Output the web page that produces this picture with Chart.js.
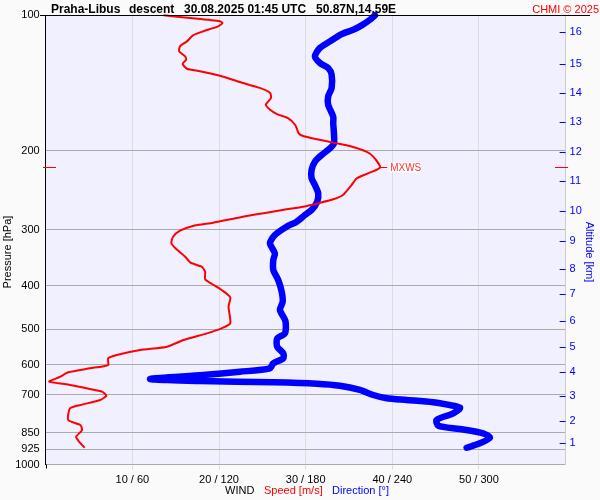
<!DOCTYPE html>
<html>
<head>
<meta charset="utf-8">
<script src="https://cdn.jsdelivr.net/npm/chart.js@4.4.1/dist/chart.umd.min.js"></script>
<style>
  html, body { margin: 0; padding: 0; background: #fafafa; }
</style>
</head>
<body>
<canvas id="sonde" width="600" height="500"></canvas>
<script>
// wind speed profile: pressure level (hPa) and speed (m/s)
var speedPres = [100, 101.4, 103.1, 104.0, 105.8, 108.5, 110.8, 114.3, 117.2, 120.3,
  123.4, 125.6, 128.3, 131.5, 133.2, 136.3, 140.8, 145.1, 148.9, 152.8,
  158.1, 162.2, 165.9, 169.6, 175.5, 183.1, 185.7, 188.8, 192.8, 195.4,
  201.2, 206.4, 218.0, 224.8, 230.6, 238.7, 251.2, 256.8, 261.3, 266.7,
  270.3, 275.0, 279.8, 284.6, 289.6, 294.4, 301.6, 311.1, 321.8, 331.8,
  344.6, 355.4, 362.8, 372.2, 387.0, 396.4, 408.8, 424.4, 445.3, 485.0,
  497.6, 510.5, 528.3, 546.8, 556.1, 570.5, 580.3, 600.5, 610.7, 623.4,
  637.5, 654.2, 663.0, 679.1, 688.5, 702.8, 718.5, 737.2, 749.7, 796.0,
  816.8, 838.0, 867.6, 886.8, 917.6];
var speedVals = [13.6, 16.7, 20.1, 20.4, 19.9, 18.2, 17.0, 16.3, 15.5, 15.4,
  16.1, 16.2, 15.8, 16.3, 17.8, 20.1, 22.4, 24.7, 25.9, 26.0,
  25.4, 25.9, 26.7, 28.0, 28.8, 29.2, 29.7, 31.3, 33.6, 35.1,
  37.0, 37.8, 38.6, 37.2, 35.9, 35.3, 34.3, 33.2, 31.7, 29.7,
  27.8, 25.5, 23.2, 21.3, 19.3, 17.0, 15.5, 14.7, 14.5, 15.1,
  16.1, 16.7, 18.0, 18.4, 18.4, 19.2, 20.3, 21.3, 21.1, 21.3,
  20.3, 18.6, 15.9, 14.0, 10.9, 8.2, 7.2, 7.2, 5.1, 2.6,
  1.7, 0.4, 2.4, 5.1, 6.5, 7.0, 6.3, 4.0, 2.8, 2.6,
  4.0, 4.2, 3.5, 3.8, 4.5];

// wind direction profile: pressure level (hPa) and direction (deg)
var dirPres = [100, 102.3, 105.3, 107.7, 110.1, 114.3, 118.2, 123.4, 127.7, 131.0,
  135.6, 145.1, 151.5, 158.1, 168.2, 174.0, 183.1, 192.8, 197.8, 204.6,
  211.8, 221.0, 230.6, 238.7, 249.0, 260.0, 271.3, 278.4, 288.1, 295.5,
  308.4, 321.8, 338.7, 350.5, 369.0, 388.4, 412.4, 434.3, 452.9, 479.3,
  510.5, 523.8, 546.8, 565.6, 580.3, 595.3, 610.7, 621.5, 632.1, 645.1,
  651.7, 656.1, 660.8, 667.6, 682.5, 700.3, 712.3, 718.5, 727.0, 747.5,
  769.1, 796.0, 819.7, 833.7, 852.1, 872.0, 897.2, 917.6];
var dirVals = [228.0, 224.5, 218.8, 212.9, 204.9, 196.8, 189.9, 186.4, 189.9, 195.6,
  198.0, 198.0, 195.6, 195.6, 199.1, 199.1, 199.6, 199.6, 196.8, 191.1,
  186.4, 184.1, 184.1, 186.4, 188.7, 188.0, 184.1, 179.5, 173.8, 166.8,
  158.7, 155.3, 158.7, 157.6, 157.6, 161.0, 163.4, 164.1, 162.2, 166.0,
  165.7, 160.3, 160.3, 164.5, 164.5, 157.6, 155.3, 134.5, 108.9, 72.2,
  106.8, 157.6, 187.6, 203.7, 217.6, 226.8, 236.1, 249.9, 268.3, 286.8,
  282.2, 270.7, 271.8, 286.8, 302.9, 307.6, 300.7, 291.5];

var presTicks = [100, 200, 300, 400, 500, 600, 700, 850, 925, 1000];
var speedTicks = [0, 10, 20, 30, 40, 50, 60];
var altKm = [1, 2, 3, 4, 5, 6, 7, 8, 9, 10, 11, 12, 13, 14, 15, 16];
var altPres = [895.8, 798.9, 705.1, 623.4, 547.5, 478.6, 417.3, 366.6, 317.5, 272.7,
  234.1, 201.8, 172.8, 149.2, 128.1, 109.1];

var maxWindSpeed = 38.6;
var maxWindPres = 218;

var FONT = '"Liberation Sans", Arial, sans-serif';
Chart.defaults.font.family = FONT;

var decor = {
  id: 'decor',
  beforeDraw: function(chart) {
    var c = chart.ctx, a = chart.chartArea;
    c.save();
    c.fillStyle = '#fafafa';
    c.fillRect(0, 0, chart.width, chart.height);
    c.fillStyle = '#f0f0ff';
    c.fillRect(a.left, a.top, a.right - a.left, a.bottom - a.top);
    c.restore();
  },
  afterDraw: function(chart) {
    var c = chart.ctx, a = chart.chartArea;
    var sx = chart.scales.x, sy = chart.scales.y, sy2 = chart.scales.y2;
    c.save();

    // top frame line and the left axis stub under the bottom
    c.strokeStyle = '#000';
    c.lineWidth = 1;
    c.beginPath();
    c.moveTo(40, Math.round(a.top) + 0.5);
    c.lineTo(590, Math.round(a.top) + 0.5);
    c.moveTo(Math.round(a.left) + 0.5, a.bottom);
    c.lineTo(Math.round(a.left) + 0.5, a.bottom + 4);
    c.stroke();

    // altitude ticks drawn inside the frame
    c.strokeStyle = '#0000ff';
    c.beginPath();
    altPres.forEach(function(p) {
      var y = Math.round(sy2.getPixelForValue(p)) + 0.5;
      c.moveTo(a.right - 6, y);
      c.lineTo(a.right, y);
    });
    c.stroke();

    // max wind marks
    var my = Math.round(sy.getPixelForValue(maxWindPres)) + 0.5;
    var mx = sx.getPixelForValue(maxWindSpeed);
    c.strokeStyle = '#ff0000';
    c.beginPath();
    c.moveTo(43, my); c.lineTo(56, my);
    c.moveTo(555, my); c.lineTo(568, my);
    c.moveTo(mx, my); c.lineTo(mx + 7, my);
    c.stroke();
    c.fillStyle = '#ffffff';
    c.fillRect(mx + 9, my - 5, 32, 10);
    c.fillStyle = '#ff3333';
    c.font = '10px ' + FONT;
    c.textBaseline = 'middle';
    c.textAlign = 'left';
    c.fillText('MXWS', mx + 10, my + 0.5);

    // header
    c.textBaseline = 'alphabetic';
    c.fillStyle = '#000';
    c.font = 'bold 12px ' + FONT;
    c.fillText('Praha-Libus', 51, 12.5);
    c.fillText('descent', 129, 12.5);
    c.fillText('30.08.2025 01:45 UTC', 184, 12.5);
    c.fillText('50.87N,14.59E', 316, 12.5);
    c.fillStyle = '#ff0000';
    c.font = '11px ' + FONT;
    c.textAlign = 'right';
    c.fillText('CHMI \u00a9 2025', 599, 12.5);

    // bottom legend
    c.textAlign = 'left';
    c.textBaseline = 'middle';
    c.fillStyle = '#000';
    c.fillText('WIND', 225, 491);
    c.fillStyle = '#ff0000';
    c.fillText('Speed [m/s]', 264, 491);
    c.fillStyle = '#0000ff';
    c.fillText('Direction [\u00b0]', 332, 491);

    // axis titles
    c.textAlign = 'center';
    c.fillStyle = '#000';
    c.save();
    c.translate(8, 252);
    c.rotate(-Math.PI / 2);
    c.fillText('Pressure [hPa]', 0, 0);
    c.restore();
    c.fillStyle = '#0000ff';
    c.translate(589, 252);
    c.rotate(Math.PI / 2);
    c.fillText('Altitude [km]', 0, 0);

    c.restore();
  }
};

var chart = new Chart(document.getElementById('sonde'), {
  type: 'scatter',
  data: {
    datasets: [{
      label: 'Speed',
      data: speedPres.map(function(p, i) { return { x: speedVals[i], y: p }; }),
      xAxisID: 'x',
      yAxisID: 'y',
      showLine: true,
      borderColor: '#ff0000',
      borderWidth: 2,
      pointRadius: 0,
      tension: 0.2,
      clip: false
    }, {
      label: 'Direction',
      data: dirPres.map(function(p, i) { return { x: dirVals[i], y: p }; }),
      xAxisID: 'x2',
      yAxisID: 'y',
      showLine: true,
      borderColor: '#0000ff',
      borderWidth: 6.5,
      borderCapStyle: 'round',
      borderJoinStyle: 'round',
      pointRadius: 0,
      tension: 0.25,
      clip: false
    }]
  },
  options: {
    responsive: false,
    animation: false,
    devicePixelRatio: 1,
    layout: { padding: { top: 15.3, left: 0, right: 0, bottom: 0 } },
    plugins: { legend: { display: false }, tooltip: { enabled: false } },
    scales: {
      x: {
        type: 'linear', position: 'bottom', min: 0, max: 60,
        afterBuildTicks: function(s) { s.ticks = speedTicks.map(function(v) { return { value: v }; }); },
        afterFit: function(s) { s.height = 35.5; },
        ticks: {
          autoSkip: false, maxRotation: 0, padding: 4, color: '#000',
          font: { size: 11 },
          callback: function(v) { return (v > 0 && v < 60) ? v + ' / ' + (v * 6) : ''; }
        },
        grid: {
          drawTicks: true,
          tickLength: 5,
          color: function(ctx) {
            if (ctx.tick && (ctx.tick.value === 0 || ctx.tick.value === 60)) return 'rgba(0,0,0,0)';
            return '#dddddd';
          }
        },
        border: { color: '#aaaaaa' }
      },
      x2: { type: 'linear', display: false, min: 0, max: 360 },
      y: {
        type: 'logarithmic', position: 'left', reverse: true, min: 100, max: 1000,
        afterBuildTicks: function(s) { s.ticks = presTicks.map(function(v) { return { value: v }; }); },
        afterFit: function(s) { s.width = 45.7; },
        ticks: {
          autoSkip: false, padding: 6, color: '#000', font: { size: 11 },
          callback: function(v) { return String(v); }
        },
        grid: { drawTicks: false, color: '#aaaaaa' },
        border: { color: '#000000' }
      },
      y2: {
        type: 'logarithmic', position: 'right', reverse: true, min: 100, max: 1000,
        afterBuildTicks: function(s) { s.ticks = altPres.map(function(v) { return { value: v }; }); },
        afterFit: function(s) { s.width = 34.4; },
        ticks: {
          autoSkip: false, padding: 4, color: '#0000ff', font: { size: 11 },
          callback: function(v) { return String(altKm[altPres.indexOf(v)]); }
        },
        grid: { drawOnChartArea: false, drawTicks: false },
        border: { color: '#cccccc' }
      }
    }
  },
  plugins: [decor]
});
</script>
</body>
</html>
